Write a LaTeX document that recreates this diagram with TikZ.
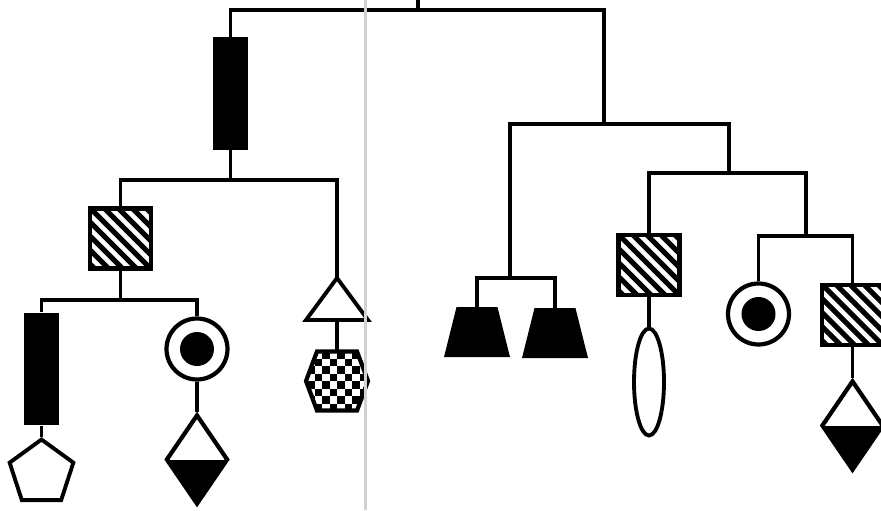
\documentclass[tikz,border=0pt]{standalone}
\usetikzlibrary{shapes.geometric,calc}
\definecolor{foldgray}{gray}{0.82}
\tikzset{
  wire/.style     = {draw=black, line width=2.2pt},
  solidbar/.style = {rectangle, fill=black, inner sep=0pt,
                     minimum width=0.7cm, minimum height=2.25cm},
  hatchsq/.style  = {rectangle, draw=black, line width=2.4pt, fill=white,
                     inner sep=0pt, minimum width=1.22cm, minimum height=1.2cm,
                     path picture={\coordinate (o) at (path picture bounding box.center);
                       \foreach \k in {-84,-70,...,84}
                         \draw[line width=2.9pt] ($(o)+(\k-40,-40)$) -- ($(o)+(\k+40,40)$);}},
  ring/.style     = {circle, draw=black, line width=2.4pt, fill=white,
                     inner sep=0pt, minimum size=1.22cm,
                     path picture={\fill[black] (path picture bounding box.center) circle (0.34cm);}},
  halfdiam/.style = {diamond, draw=black, line width=2.4pt, fill=white,
                     inner sep=0pt, minimum width=1.24cm, minimum height=1.8cm,
                     path picture={\fill[black] (path picture bounding box.west)
                       rectangle (path picture bounding box.south east);}},
  penta/.style    = {regular polygon, regular polygon sides=5, draw=black,
                     line width=2.2pt, fill=white, inner sep=0pt, minimum size=1.34cm},
  bell/.style     = {trapezium, fill=black, inner sep=2pt, trapezium stretches=true,
                     trapezium left angle=73, trapezium right angle=73,
                     minimum width=1.32cm, minimum height=1.0cm},
  drop/.style     = {ellipse, draw=black, line width=2.2pt, fill=white,
                     inner sep=0pt, minimum width=0.6cm, minimum height=2.14cm},
  opentri/.style  = {rectangle, inner sep=0pt, outer sep=-0.08cm,
                     minimum width=1.40cm, minimum height=1.0cm,
                     path picture={\coordinate (o) at (path picture bounding box.center);
                       \draw[line width=2.2pt] ($(o)+(0,-21)$) -- ($(o)+(31,21)$)
                         -- ($(o)+(-31,21)$) -- cycle;}},
  checkhex/.style = {rectangle, inner sep=0pt, outer sep=-0.08cm,
                     minimum width=1.40cm, minimum height=1.34cm,
                     path picture={\coordinate (o) at (path picture bounding box.center);
                       \begin{scope}
                         \clip ($(o)+(-31,0)$) -- ($(o)+(-20,-29.5)$) -- ($(o)+(20,-29.5)$)
                           -- ($(o)+(31,0)$) -- ($(o)+(20,29.5)$) -- ($(o)+(-20,29.5)$) -- cycle;
                         \foreach \i in {0,...,9}
                           \foreach \j in {0,2,...,8}
                             \fill ($(o)+({\i*7.5-37.5},{\j*7.5-37.5+mod(\i,2)*7.5})$) rectangle +(7.5,7.5);
                       \end{scope}
                       \draw[line width=2.4pt] ($(o)+(-31,0)$) -- ($(o)+(-20,-29.5)$)
                         -- ($(o)+(20,-29.5)$) -- ($(o)+(31,0)$) -- ($(o)+(20,29.5)$)
                         -- ($(o)+(-20,29.5)$) -- cycle;}},
}
\begin{document}
\begin{tikzpicture}[x=0.02cm, y=-0.02cm]
  \clip (0,0) rectangle (881,510);
  % left arm
  \node[solidbar] (blkA) at (230.5,93.5) {};
  \node[hatchsq]  (hatA) at (120.5,238.5) {};
  \node[solidbar] (blkB) at (41.5,369) {};
  \node[penta]    (pent) at (41.5,473) {};
  \node[ring]     (ringA) at (197,349) {};
  \node[halfdiam] (diaA) at (197,459.5) {};
  \node[opentri]  (tri) at (337,299) {};
  \node[checkhex] (hexa) at (337,381) {};
  % right arm
  \node[bell]     (trapL) at (477,332) {};
  \node[bell]     (trapR) at (555,333) {};
  \node[hatchsq]  (hatB) at (649,265) {};
  \node[drop]     (ell) at (649,382) {};
  \node[ring]     (ringB) at (758.5,314) {};
  \node[hatchsq]  (hatC) at (852.5,315) {};
  \node[halfdiam] (diaB) at (852.5,425.5) {};
  % bars
  \coordinate (hook) at (418,0);
  \coordinate (bar1) at (418,10);
  \coordinate (bar2) at (604,124);
  \coordinate (bar3) at (510,278);
  \coordinate (bar4) at (729,173);
  \coordinate (bar5) at (806,236);
  \coordinate (barB) at (230.5,180);
  \coordinate (barC) at (120.5,300);
  \draw[wire] (hook) -- (bar1);
  \draw[wire] (blkA.north) |- (bar1) -| (bar2);
  \draw[wire] (bar3) |- (bar2) -| (bar4);
  \draw[wire] (trapL.north) |- (bar3) -| (trapR.north);
  \draw[wire] (hatB.north) |- (bar4) -| (bar5);
  \draw[wire] (ringB.north) |- (bar5) -| (hatC.north);
  \draw[wire] (hatB.south) -- (ell.north);
  \draw[wire] (hatC.south) -- (diaB.north);
  \draw[wire] (blkA.south) -- (barB);
  \draw[wire] (hatA.north) |- (barB) -| (tri.north);
  \draw[wire] (tri.south) -- (hexa.north);
  \draw[wire] (hatA.south) -- (barC);
  \draw[wire] (blkB.north) |- (barC) -| (ringA.north);
  \draw[wire] (blkB.south) -- (pent.north);
  \draw[wire] (ringA.south) -- (diaA.north);
  % fold of the page
  \coordinate (foldtop) at (365,0);
  \coordinate (foldbot) at (365,510);
  \draw[foldgray, line width=0.06cm] (foldtop) -- (foldbot);
\end{tikzpicture}
\end{document}
